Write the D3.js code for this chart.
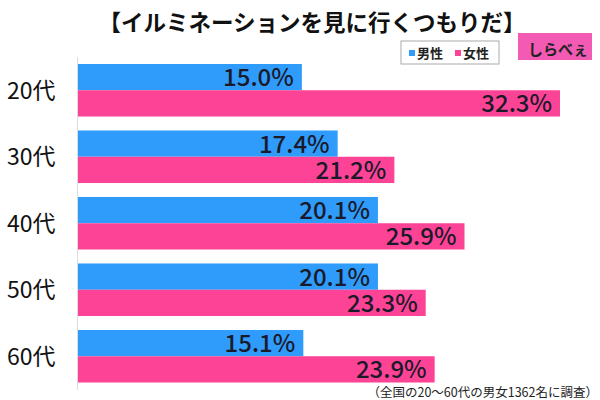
<!DOCTYPE html>
<html>
<head>
<meta charset="utf-8">
<script src="https://cdn.jsdelivr.net/npm/d3@7"></script>
<style>
  body { margin: 0; background: #fff; }
  svg { display: block; font-family: "Noto Sans CJK JP", "Noto Sans", sans-serif; }
</style>
</head>
<body>
<svg id="chart"></svg>
<script>
const ageGroups = ["20代", "30代", "40代", "50代", "60代"];
const seriesNames = ["男性", "女性"];
const maleValues = [15.0, 17.4, 20.1, 20.1, 15.1];
const femaleValues = [32.3, 21.2, 25.9, 23.3, 23.9];
const titleText = "【イルミネーションを見に行くつもりだ】";
const noteText = "（全国の20〜60代の男女1362名に調査）";

const width = 600, height = 400;
const colors = { "男性": "#2f9bfb", "女性": "#fd4396" };

const rows = ageGroups.map((g, i) => ({
  group: g,
  values: [
    { key: "男性", value: maleValues[i] },
    { key: "女性", value: femaleValues[i] }
  ]
}));

const svg = d3.select("#chart")
  .attr("width", width)
  .attr("height", height);

const x = d3.scaleLinear().domain([0, 32.3]).range([78, 560]);

const y = d3.scaleBand()
  .domain(ageGroups)
  .range([57, 389.5])
  .paddingInner(0.21)
  .paddingOuter(0.105);

const yInner = d3.scaleBand()
  .domain(seriesNames)
  .range([0, y.bandwidth()])
  .padding(0);

// title
svg.append("text")
  .attr("x", 312)
  .attr("y", 31)
  .attr("text-anchor", "middle")
  .attr("font-size", 22.5)
  .attr("font-weight", "bold")
  .attr("fill", "#111")
  .text(titleText);

// legend
const legend = svg.append("g").attr("transform", "translate(401,41)");
legend.append("rect")
  .attr("width", 98).attr("height", 23)
  .attr("fill", "#fff").attr("stroke", "#aaa");
seriesNames.forEach((s, i) => {
  const lg = legend.append("g").attr("transform", `translate(${8 + i * 46},0)`);
  lg.append("rect").attr("x", 0).attr("y", 9).attr("width", 6).attr("height", 6).attr("fill", colors[s]);
  lg.append("text").attr("x", 8).attr("y", 17).attr("font-size", 13).attr("font-weight", "bold").attr("fill", "#222").text(s);
});

// logo
const logo = svg.append("g").attr("transform", "translate(518,33)");
logo.append("rect").attr("width", 74).attr("height", 27).attr("fill", "#f25ab4");
logo.append("text")
  .attr("x", 40).attr("y", 22)
  .attr("text-anchor", "middle")
  .attr("font-size", 15).attr("font-weight", "bold").attr("fill", "#222")
  .text("しらべぇ");

// axis line
svg.append("line")
  .attr("x1", 77.5).attr("x2", 77.5)
  .attr("y1", 57).attr("y2", 390)
  .attr("stroke", "#dcdcdc").attr("stroke-width", 1);

// category labels
svg.append("g")
  .selectAll("text")
  .data(ageGroups)
  .join("text")
  .attr("x", 7)
  .attr("y", d => y(d) + y.bandwidth() / 2)
  .attr("dy", "0.36em")
  .attr("font-size", 23)
  .attr("fill", "#111")
  .text(d => d);

// bars
const groups = svg.append("g")
  .selectAll("g")
  .data(rows)
  .join("g")
  .attr("transform", d => `translate(0,${y(d.group)})`);

groups.selectAll("rect")
  .data(d => d.values)
  .join("rect")
  .attr("x", x(0))
  .attr("y", d => yInner(d.key))
  .attr("width", d => x(d.value) - x(0))
  .attr("height", yInner.bandwidth())
  .attr("fill", d => colors[d.key]);

groups.selectAll("text")
  .data(d => d.values)
  .join("text")
  .attr("x", d => x(d.value) - 8)
  .attr("y", d => yInner(d.key) + yInner.bandwidth() / 2)
  .attr("dy", "0.38em")
  .attr("text-anchor", "end")
  .attr("font-size", 24)
  .attr("font-weight", 500)
  .attr("fill", "#1a1a2a")
  .text(d => d.value.toFixed(1) + "%");

// note
svg.append("text")
  .attr("x", 598)
  .attr("y", 397)
  .attr("text-anchor", "end")
  .attr("font-size", 12.5)
  .attr("fill", "#222")
  .text(noteText);
</script>
</body>
</html>
